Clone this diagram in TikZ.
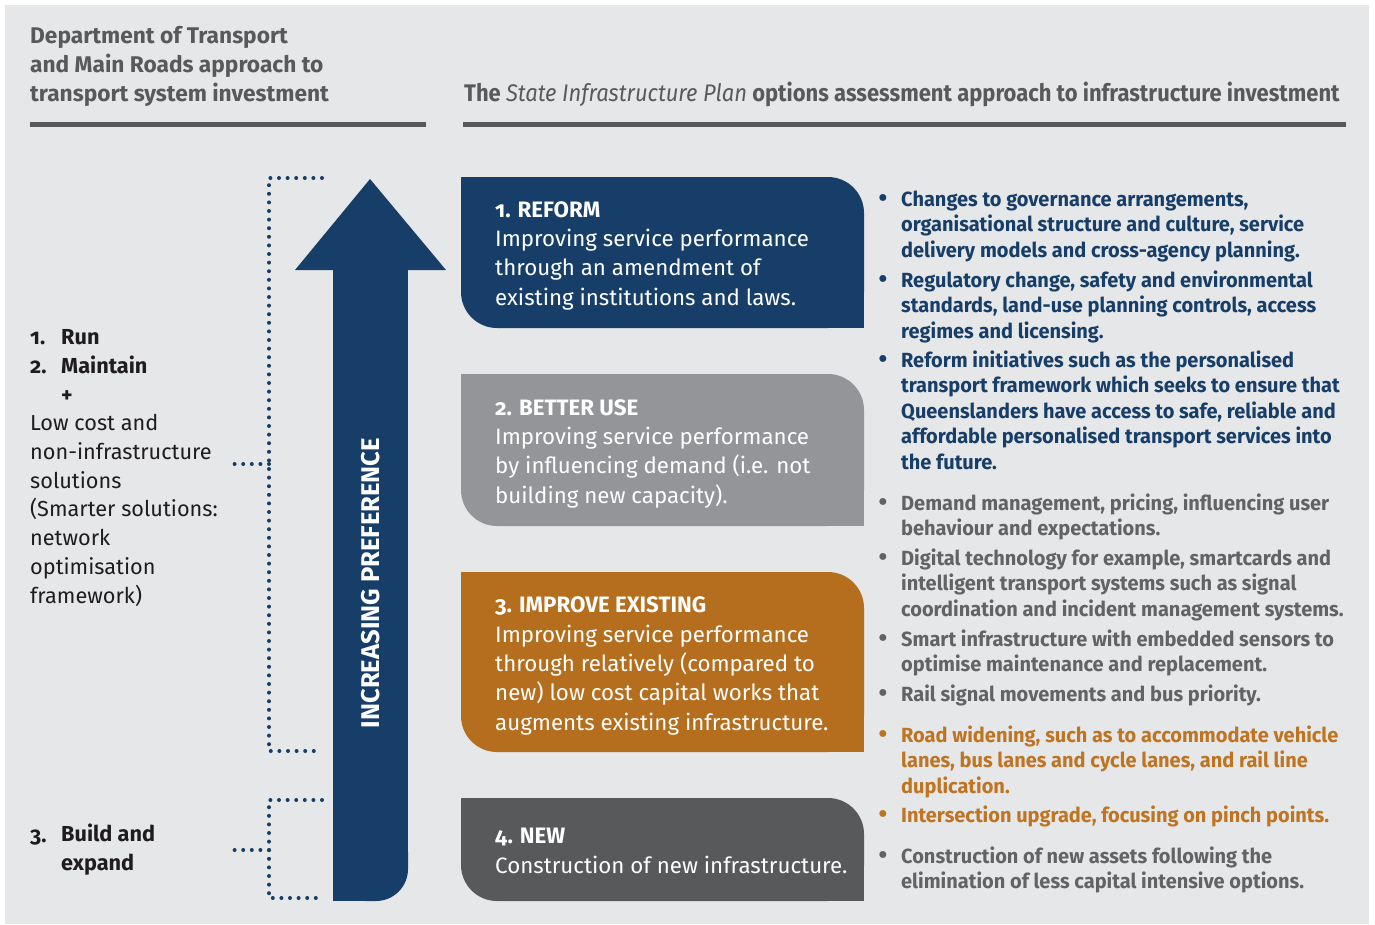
\documentclass[tikz,border=0pt]{standalone}
\usepackage{fontspec}
\setmainfont{Fira Sans}[Numbers=OldStyle]
\newfontfamily\narrowfont{Fira Sans}[FakeStretch=0.915]
\newfontfamily\itemfont{Fira Sans}[FakeStretch=0.975]
\usetikzlibrary{positioning}

\definecolor{navy}{RGB}{23,62,105}
\definecolor{midgrey}{RGB}{147,149,152}
\definecolor{ochre}{RGB}{181,110,29}
\definecolor{ochretext}{RGB}{190,116,32}
\definecolor{slate}{RGB}{88,89,91}
\definecolor{bulletgrey}{RGB}{98,99,101}
\definecolor{paper}{RGB}{230,231,232}
\definecolor{ink}{RGB}{30,28,29}

% note: base anchor of a multi-line node sits on its last line
\tikzset{
	head/.style={anchor=base west, align=left, inner sep=0pt, text=slate, font=\bfseries\fontsize{22.7}{29}\selectfont},
	boxtext/.style={anchor=base west, align=left, inner sep=0pt, text=white, font=\fontsize{22.3}{29.3}\selectfont},
	lefttext/.style={anchor=base west, align=left, inner sep=0pt, text=ink, font=\fontsize{21.7}{28.7}\selectfont},
	leftbold/.style={lefttext, font=\bfseries\fontsize{21.7}{28.7}\selectfont},
	item/.style={anchor=base west, align=left, inner sep=0pt, font=\itemfont\bfseries\fontsize{20.5}{25.5}\selectfont},
	dotmark/.style={anchor=base, inner sep=0pt, font=\bfseries\fontsize{25}{25.5}\selectfont},
	dotline/.style={draw=navy, line width=4pt, line cap=round, dash pattern=on 0pt off 8.6pt},
}

\begin{document}
\begin{tikzpicture}[x=1pt, y=-1pt]

		\useasboundingbox (0,0) rectangle (1375,924);
		\fill[white] (0,0) rectangle (1375,924);
		\fill[paper] (5,5) rectangle (1369,924);

		% headings
		\node[head] (dept) at (30,101) {Department of Transport\\and Main Roads approach to\\transport system investment};
		\node[anchor=base west, inner sep=0pt, text=slate, font=\narrowfont\bfseries\fontsize{24}{29}\selectfont] (sip) at (464,101)
			{The {\mdseries\itshape State Infrastructure Plan} options assessment approach to infrastructure investment};
		\draw[slate, line width=5pt] (30,124.5) -- (426,124.5);
		\draw[slate, line width=5pt] (463,124.5) -- (1346,124.5);

		% arrow
		\fill[navy] (295,270) -- (370,179) -- (446,270) -- cycle;
		\fill[navy] (333,269) rectangle (408,860);
		\fill[navy, rounded corners=32] (333,820) rectangle (408,901);
		\fill[navy] (333,860) rectangle (370,901);
		\node[rotate=90, text=white, inner sep=0pt, font=\bfseries\fontsize{25.6}{30}\selectfont] (pref) at (371,583) {INCREASING PREFERENCE};

		% brackets
		\coordinate (u1) at (322,178);
		\coordinate (u2) at (269,178);
		\coordinate (u3) at (269,751);
		\coordinate (u4) at (322,751);
		\coordinate (u5) at (269,464);
		\coordinate (u6) at (234,464);
		\coordinate (l1) at (322,800);
		\coordinate (l2) at (269,800);
		\coordinate (l3) at (269,898);
		\coordinate (l4) at (322,898);
		\coordinate (l5) at (269,850);
		\coordinate (l6) at (234,850);
		\draw[dotline] (u1) -- (u2) -- (u3) -- (u4);
		\draw[dotline] (u5) -- (u6);
		\draw[dotline] (l1) -- (l2) -- (l3) -- (l4);
		\draw[dotline] (l5) -- (l6);

		% left column
		\node[leftbold] (num1) at (30,344) {1.};
		\node[leftbold] (run) at (61,344) {Run};
		\node[leftbold] (num2) at (30,373) {2.};
		\node[leftbold] (maint) at (61,373) {Maintain};
		\node[leftbold] (plus) at (61,402) {+};
		\node[lefttext] (low) at (30,603) {Low cost and\\non-infrastructure\\solutions\\(Smarter solutions:\\network\\optimisation\\framework)};
		\node[leftbold] (num3) at (30,842) {3.};
		\node[leftbold] (build) at (61,870) {Build and\\expand};

		% option boxes
		\fill[navy, rounded corners=36] (461,177) rectangle (864,328);
		\fill[navy] (461,177) rectangle (520,240);
		\fill[navy] (800,270) rectangle (864,328);
		\fill[midgrey, rounded corners=36] (461,374) rectangle (864,526);
		\fill[midgrey] (461,374) rectangle (520,440);
		\fill[midgrey] (800,460) rectangle (864,526);
		\fill[ochre, rounded corners=36] (461,572) rectangle (864,752);
		\fill[ochre] (461,572) rectangle (520,640);
		\fill[ochre] (800,690) rectangle (864,752);
		\fill[slate, rounded corners=36] (461,798) rectangle (864,901);
		\fill[slate] (461,798) rectangle (520,850);
		\fill[slate] (800,850) rectangle (864,901);

		\node[boxtext] (reform) at (495,305) {\textbf{1. REFORM}\\Improving service performance\\through an amendment of\\existing institutions and laws.};
		\node[boxtext] (better) at (495,503) {\textbf{2. BETTER USE}\\Improving service performance\\by influencing demand (i.e. not\\building new capacity).};
		\node[boxtext] (improve) at (495,730) {\textbf{3. IMPROVE EXISTING}\\Improving service performance\\through relatively (compared to\\new) low cost capital works that\\augments existing infrastructure.};
		\node[boxtext] (new) at (495,873) {\textbf{4. NEW}\\Construction of new infrastructure.};

		% examples
		\node[dotmark, text=navy] (d1) at (883,206) {•};
		\node[item, text=navy] (e1) at (901,257) {Changes to governance arrangements,\\organisational structure and culture, service\\delivery models and cross-agency planning.};
		\node[dotmark, text=navy] (d2) at (883,287) {•};
		\node[item, text=navy] (e2) at (901,338) {Regulatory change, safety and environmental\\standards, land-use planning controls, access\\regimes and licensing.};
		\node[dotmark, text=navy] (d3) at (883,367) {•};
		\node[item, text=navy] (e3) at (901,469) {Reform initiatives such as the personalised\\transport framework which seeks to ensure that\\Queenslanders have access to safe, reliable and\\affordable personalised transport services into\\the future.};
		\node[dotmark, text=bulletgrey] (d4) at (883,510) {•};
		\node[item, text=bulletgrey] (e4) at (901,535.5) {Demand management, pricing, influencing user\\behaviour and expectations.};
		\node[dotmark, text=bulletgrey] (d5) at (883,565) {•};
		\node[item, text=bulletgrey] (e5) at (901,616) {Digital technology for example, smartcards and\\intelligent transport systems such as signal\\coordination and incident management systems.};
		\node[dotmark, text=bulletgrey] (d6) at (883,646) {•};
		\node[item, text=bulletgrey] (e6) at (901,671.5) {Smart infrastructure with embedded sensors to\\optimise maintenance and replacement.};
		\node[dotmark, text=bulletgrey] (d7) at (883,701) {•};
		\node[item, text=bulletgrey] (e7) at (901,701) {Rail signal movements and bus priority.};
		\node[dotmark, text=ochretext] (d8) at (883,742) {•};
		\node[item, text=ochretext] (e8) at (901,793) {Road widening, such as to accommodate vehicle\\lanes, bus lanes and cycle lanes, and rail line\\duplication.};
		\node[dotmark, text=ochretext] (d9) at (883,822) {•};
		\node[item, text=ochretext] (e9) at (901,822) {Intersection upgrade, focusing on pinch points.};
		\node[dotmark, text=bulletgrey] (d10) at (883,863) {•};
		\node[item, text=bulletgrey] (e10) at (901,888.5) {Construction of new assets following the\\elimination of less capital intensive options.};

\end{tikzpicture}
\end{document}
